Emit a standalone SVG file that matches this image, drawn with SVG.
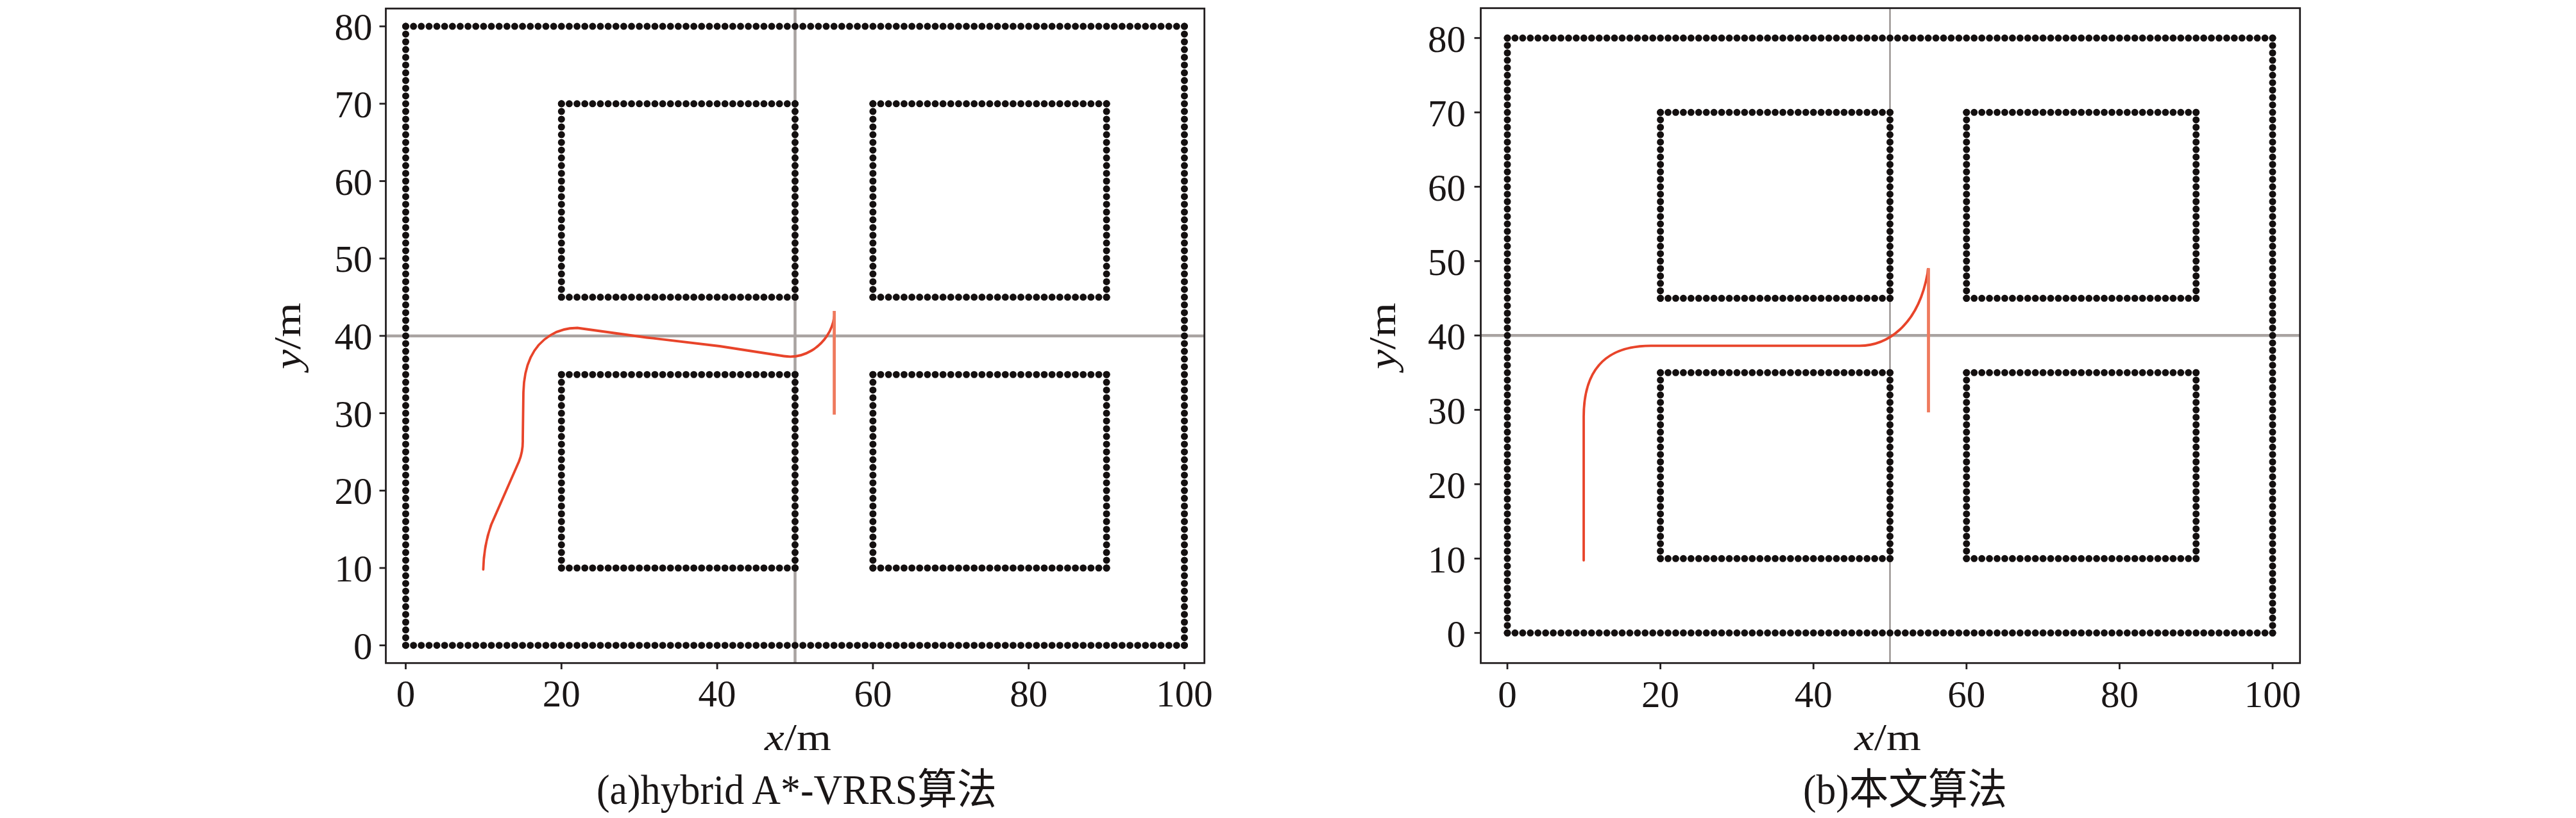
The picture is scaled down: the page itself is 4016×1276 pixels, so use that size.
<svg xmlns="http://www.w3.org/2000/svg" width="4016" height="1276" viewBox="0 0 4016 1276">
<style>
text{font-family:"Liberation Serif","Noto Sans CJK SC",serif;fill:#1a1616}
.tk{font-size:59px}
.tx{text-anchor:middle}
.ty{text-anchor:end}
.spine{fill:none;stroke:#231f20;stroke-width:2.8}
.tick{stroke:#231f20;stroke-width:2.8}
.da{stroke:#141010;stroke-width:11;stroke-linecap:round;fill:none}
.ha{stroke-dasharray:0 12.14}
.va{stroke-dasharray:0 12.07}
.hb{stroke-dasharray:0 11.93}
.vb{stroke-dasharray:0 11.6}
.grid{stroke:#a9a3a1;stroke-width:4.5}
.gridthin{stroke:#8e8785;stroke-width:2.2}
.path{fill:none;stroke:#e8442a;stroke-width:3.8;stroke-linejoin:round;stroke-linecap:round}
.head{stroke:#ef7a5e;stroke-width:4.8}
.lab{font-size:60px}
.cap{font-size:66px}
</style>
<rect width="4016" height="1276" fill="#ffffff"/>

<!-- ================= Plot (a) ================= -->
<g id="plot-a">
  <g id="grid-a">
    <line class="grid" x1="601.5" y1="523.9" x2="1877.7" y2="523.9"/>
    <line class="grid" x1="1239.5" y1="13.3" x2="1239.5" y2="1034.3"/>
  </g>
  <g id="obstacles-a">
    <line class="da ha" x1="632.5" y1="1006.7" x2="1847.2" y2="1006.7"/>
    <line class="da ha" x1="632.5" y1="41.1" x2="1847.2" y2="41.1"/>
    <line class="da va" x1="632.5" y1="41.1" x2="632.5" y2="1007.3"/>
    <line class="da va" x1="1846.5" y1="41.1" x2="1846.5" y2="1007.3"/>
    <line class="da ha" x1="875.3" y1="161.8" x2="1240" y2="161.8"/>
    <line class="da ha" x1="875.3" y1="463.55" x2="1240" y2="463.55"/>
    <line class="da va" x1="875.3" y1="161.8" x2="875.3" y2="464"/>
    <line class="da va" x1="1239.5" y1="161.8" x2="1239.5" y2="464"/>
    <line class="da ha" x1="1360.9" y1="161.8" x2="1725.6" y2="161.8"/>
    <line class="da ha" x1="1360.9" y1="463.55" x2="1725.6" y2="463.55"/>
    <line class="da va" x1="1360.9" y1="161.8" x2="1360.9" y2="464"/>
    <line class="da va" x1="1725.1" y1="161.8" x2="1725.1" y2="464"/>
    <line class="da ha" x1="875.3" y1="584.25" x2="1240" y2="584.25"/>
    <line class="da ha" x1="875.3" y1="886" x2="1240" y2="886"/>
    <line class="da va" x1="875.3" y1="584.25" x2="875.3" y2="886.5"/>
    <line class="da va" x1="1239.5" y1="584.25" x2="1239.5" y2="886.5"/>
    <line class="da ha" x1="1360.9" y1="584.25" x2="1725.6" y2="584.25"/>
    <line class="da ha" x1="1360.9" y1="886" x2="1725.6" y2="886"/>
    <line class="da va" x1="1360.9" y1="584.25" x2="1360.9" y2="886.5"/>
    <line class="da va" x1="1725.1" y1="584.25" x2="1725.1" y2="886.5"/>
  </g>
  <g id="trajectory-a">
    <path class="path" d="M 753.4 888.3 C 754 860, 758 840, 766 818 L 809 720 C 813 710, 815.5 700, 815 685 L 816 612 C 817 570, 830 540, 858 523 C 872 514, 885 511.5, 900 511.5 L 1008 526.5 L 1122 540 L 1222 555.5 C 1235 557.5, 1250 556, 1265 547 C 1285 535, 1298 515, 1300.5 494"/>
    <line class="head" x1="1300.6" y1="485" x2="1300.6" y2="646.7"/>
  </g>
  <g id="axes-a">
    <rect class="spine" x="601.5" y="13.3" width="1276.2" height="1021"/>
    <g class="tick">
      <line x1="632.5" y1="1034.3" x2="632.5" y2="1044"/>
      <line x1="875.3" y1="1034.3" x2="875.3" y2="1044"/>
      <line x1="1118.1" y1="1034.3" x2="1118.1" y2="1044"/>
      <line x1="1360.9" y1="1034.3" x2="1360.9" y2="1044"/>
      <line x1="1603.7" y1="1034.3" x2="1603.7" y2="1044"/>
      <line x1="1846.5" y1="1034.3" x2="1846.5" y2="1044"/>
      <line x1="591.5" y1="1006.7" x2="601.5" y2="1006.7"/>
      <line x1="591.5" y1="886" x2="601.5" y2="886"/>
      <line x1="591.5" y1="765.3" x2="601.5" y2="765.3"/>
      <line x1="591.5" y1="644.6" x2="601.5" y2="644.6"/>
      <line x1="591.5" y1="523.9" x2="601.5" y2="523.9"/>
      <line x1="591.5" y1="403.2" x2="601.5" y2="403.2"/>
      <line x1="591.5" y1="282.5" x2="601.5" y2="282.5"/>
      <line x1="591.5" y1="161.8" x2="601.5" y2="161.8"/>
      <line x1="591.5" y1="41.1" x2="601.5" y2="41.1"/>
    </g>
    <g class="tk tx">
      <text x="632.5" y="1102">0</text>
      <text x="875.3" y="1102">20</text>
      <text x="1118.1" y="1102">40</text>
      <text x="1360.9" y="1102">60</text>
      <text x="1603.7" y="1102">80</text>
      <text x="1846.5" y="1102">100</text>
    </g>
    <g class="tk ty">
      <text x="580.5" y="1027.7">0</text>
      <text x="580.5" y="907">10</text>
      <text x="580.5" y="786.3">20</text>
      <text x="580.5" y="665.6">30</text>
      <text x="580.5" y="544.9">40</text>
      <text x="580.5" y="424.2">50</text>
      <text x="580.5" y="303.5">60</text>
      <text x="580.5" y="182.8">70</text>
      <text x="580.5" y="62.1">80</text>
    </g>
    <text class="lab tx" x="1244" y="1170" textLength="104" lengthAdjust="spacingAndGlyphs"><tspan font-style="italic">x</tspan>/m</text>
    <text class="lab tx" transform="translate(468,524) rotate(-90)" textLength="104" lengthAdjust="spacingAndGlyphs"><tspan font-style="italic">y</tspan>/m</text>
  </g>
  <text class="cap" x="930" y="1254" textLength="624" lengthAdjust="spacingAndGlyphs">(a)hybrid A*-VRRS算法</text>
</g>

<!-- ================= Plot (b) ================= -->
<g id="plot-b">
  <g id="grid-b">
    <line class="grid" x1="2308.5" y1="523.3" x2="3585.7" y2="523.3"/>
    <line class="gridthin" x1="2946.5" y1="12.7" x2="2946.5" y2="1034.3"/>
  </g>
  <g id="obstacles-b">
    <line class="da hb" x1="2350" y1="987.3" x2="3543.6" y2="987.3"/>
    <line class="da hb" x1="2350" y1="59.3" x2="3543.6" y2="59.3"/>
    <line class="da vb" x1="2350" y1="59.3" x2="2350" y2="987.8"/>
    <line class="da vb" x1="3543" y1="59.3" x2="3543" y2="987.8"/>
    <line class="da hb" x1="2588.6" y1="175.3" x2="2947" y2="175.3"/>
    <line class="da hb" x1="2588.6" y1="465.3" x2="2947" y2="465.3"/>
    <line class="da vb" x1="2588.6" y1="175.3" x2="2588.6" y2="465.8"/>
    <line class="da vb" x1="2946.5" y1="175.3" x2="2946.5" y2="465.8"/>
    <line class="da hb" x1="3065.8" y1="175.3" x2="3424.2" y2="175.3"/>
    <line class="da hb" x1="3065.8" y1="465.3" x2="3424.2" y2="465.3"/>
    <line class="da vb" x1="3065.8" y1="175.3" x2="3065.8" y2="465.8"/>
    <line class="da vb" x1="3423.7" y1="175.3" x2="3423.7" y2="465.8"/>
    <line class="da hb" x1="2588.6" y1="581.3" x2="2947" y2="581.3"/>
    <line class="da hb" x1="2588.6" y1="871.3" x2="2947" y2="871.3"/>
    <line class="da vb" x1="2588.6" y1="581.3" x2="2588.6" y2="871.8"/>
    <line class="da vb" x1="2946.5" y1="581.3" x2="2946.5" y2="871.8"/>
    <line class="da hb" x1="3065.8" y1="581.3" x2="3424.2" y2="581.3"/>
    <line class="da hb" x1="3065.8" y1="871.3" x2="3424.2" y2="871.3"/>
    <line class="da vb" x1="3065.8" y1="581.3" x2="3065.8" y2="871.8"/>
    <line class="da vb" x1="3423.7" y1="581.3" x2="3423.7" y2="871.8"/>
  </g>
  <g id="trajectory-b">
    <path class="path" d="M 2469 874 L 2469 650 C 2469 580, 2500 539.3, 2574 539.3 L 2899 539.3 C 2940 539.3, 2990 510, 3005 426.7 L 3005.6 420"/>
    <line class="head" x1="3006.5" y1="418.3" x2="3006.5" y2="643.3"/>
  </g>
  <g id="axes-b">
    <rect class="spine" x="2308.5" y="12.7" width="1277.2" height="1021.6"/>
    <g class="tick">
      <line x1="2350" y1="1034.3" x2="2350" y2="1044"/>
      <line x1="2588.6" y1="1034.3" x2="2588.6" y2="1044"/>
      <line x1="2827.2" y1="1034.3" x2="2827.2" y2="1044"/>
      <line x1="3065.8" y1="1034.3" x2="3065.8" y2="1044"/>
      <line x1="3304.4" y1="1034.3" x2="3304.4" y2="1044"/>
      <line x1="3543" y1="1034.3" x2="3543" y2="1044"/>
      <line x1="2298.5" y1="987.3" x2="2308.5" y2="987.3"/>
      <line x1="2298.5" y1="871.3" x2="2308.5" y2="871.3"/>
      <line x1="2298.5" y1="755.3" x2="2308.5" y2="755.3"/>
      <line x1="2298.5" y1="639.3" x2="2308.5" y2="639.3"/>
      <line x1="2298.5" y1="523.3" x2="2308.5" y2="523.3"/>
      <line x1="2298.5" y1="407.3" x2="2308.5" y2="407.3"/>
      <line x1="2298.5" y1="291.3" x2="2308.5" y2="291.3"/>
      <line x1="2298.5" y1="175.3" x2="2308.5" y2="175.3"/>
      <line x1="2298.5" y1="59.3" x2="2308.5" y2="59.3"/>
    </g>
    <g class="tk tx">
      <text x="2350" y="1103">0</text>
      <text x="2588.6" y="1103">20</text>
      <text x="2827.2" y="1103">40</text>
      <text x="3065.8" y="1103">60</text>
      <text x="3304.4" y="1103">80</text>
      <text x="3543" y="1103">100</text>
    </g>
    <g class="tk ty">
      <text x="2285" y="1009.3">0</text>
      <text x="2285" y="893.3">10</text>
      <text x="2285" y="777.3">20</text>
      <text x="2285" y="661.3">30</text>
      <text x="2285" y="545.3">40</text>
      <text x="2285" y="429.3">50</text>
      <text x="2285" y="313.3">60</text>
      <text x="2285" y="197.3">70</text>
      <text x="2285" y="81.3">80</text>
    </g>
    <text class="lab tx" x="2943" y="1170" textLength="104" lengthAdjust="spacingAndGlyphs"><tspan font-style="italic">x</tspan>/m</text>
    <text class="lab tx" transform="translate(2175,524) rotate(-90)" textLength="104" lengthAdjust="spacingAndGlyphs"><tspan font-style="italic">y</tspan>/m</text>
  </g>
  <text class="cap" x="2811" y="1254" textLength="318" lengthAdjust="spacingAndGlyphs">(b)本文算法</text>
</g>
</svg>
